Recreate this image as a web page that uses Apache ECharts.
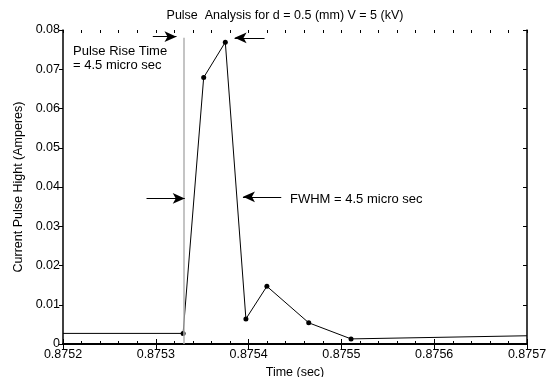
<!DOCTYPE html>
<html>
<head>
<meta charset="utf-8">
<script src="https://cdn.jsdelivr.net/npm/echarts@6/dist/echarts.min.js"></script>
<style>
html,body{margin:0;padding:0;background:#fff;}
#chart{width:553px;height:377px;}
</style>
</head>
<body>
<div id="chart"></div>
<script>
// Data
const timeSec = [0.8752, 0.8753294, 0.8753516, 0.8753749, 0.8753971, 0.8754197, 0.8754648, 0.8755104, 0.8757];
const currentA = [0.0027, 0.0027, 0.0679, 0.0769, 0.0064, 0.0147, 0.0054, 0.0013, 0.0021];
const markerShown = [false, true, true, true, true, true, true, true, false];
const xTicks = ['0.8752', '0.8753', '0.8754', '0.8755', '0.8756', '0.8757'];
const riseLineX = 0.87533;
// annotation arrows: [x1, y1, x2, y2] in data units (from tail to head)
const arrows = [
  [0.8752968, 0.0783, 0.8753223, 0.0783],
  [0.8754172, 0.0780, 0.8753849, 0.0780],
  [0.8752900, 0.0371, 0.8753312, 0.0371],
  [0.8754352, 0.0375, 0.8753939, 0.0375]
];

const FONT = 'Liberation Sans, Arial, sans-serif';
const FS = 12.5;
const chart = echarts.init(document.getElementById('chart'));

const seriesData = timeSec.map((t, i) => ({
  value: [t, currentA[i]],
  symbol: markerShown[i] ? 'circle' : 'none'
}));

function minorAxis(pos) {
  return {
    type: 'value', min: 0.8752, max: 0.8757, interval: 0.00002,
    position: pos, offset: 0,
    axisLine: {show: false},
    axisTick: {show: true, inside: true, length: 3, lineStyle: {color: '#000'}},
    axisLabel: {show: false},
    splitLine: {show: false}
  };
}

const option = {
  animation: false,
  backgroundColor: '#fff',
  title: {
    text: 'Pulse  Analysis for d = 0.5 (mm) V = 5 (kV)',
    left: 280, textAlign: 'center', top: 4,
    textStyle: {fontFamily: FONT, fontSize: FS, fontWeight: 'normal', color: '#000'}
  },
  grid: {left: 63, right: 26, top: 30, bottom: 33, containLabel: false, outerBoundsMode: 'none'},
  xAxis: [{
    type: 'value', min: 0.8752, max: 0.8757, interval: 0.0001,
    position: 'bottom',
    name: 'Time (sec)', nameLocation: 'middle', nameGap: 16,
    nameTextStyle: {fontFamily: FONT, fontSize: FS, color: '#000'},
    axisLine: {show: true, lineStyle: {color: '#000', width: 2}},
    axisTick: {show: true, inside: true, length: 5, lineStyle: {color: '#000'}},
    axisLabel: {fontFamily: FONT, fontSize: FS, color: '#000', margin: 4,
      formatter: v => { const s = v.toFixed(4); return xTicks.indexOf(s) >= 0 ? s : ''; }},
    splitLine: {show: false}
  }, {
    type: 'value', min: 0.8752, max: 0.8757, interval: 0.0001,
    position: 'top',
    axisLine: {show: true, lineStyle: {color: '#000', width: 1.5}},
    axisTick: {show: true, inside: true, length: 5, lineStyle: {color: '#000'}},
    axisLabel: {show: false},
    splitLine: {show: false}
  }, minorAxis('bottom'), minorAxis('top')],
  yAxis: [{
    type: 'value', min: 0, max: 0.08, interval: 0.01,
    position: 'left',
    name: 'Current Pulse Hight (Amperes)', nameLocation: 'middle', nameGap: 38,
    nameTextStyle: {fontFamily: FONT, fontSize: FS, color: '#000'},
    axisLine: {show: true, lineStyle: {color: '#000', width: 1.5}},
    axisTick: {show: true, inside: false, length: 4, lineStyle: {color: '#000'}},
    axisLabel: {fontFamily: FONT, fontSize: FS, color: '#000', margin: 3,
      formatter: v => v === 0 ? '0' : String(+v.toFixed(2))},
    splitLine: {show: false}
  }, {
    type: 'value', min: 0, max: 0.08, interval: 0.01,
    position: 'right',
    axisLine: {show: true, lineStyle: {color: '#000', width: 1.5}},
    axisTick: {show: true, inside: true, length: 4, lineStyle: {color: '#000'}},
    axisLabel: {show: false},
    splitLine: {show: false}
  }],
  series: [{
    type: 'line',
    data: seriesData,
    symbolSize: 5,
    showAllSymbol: true,
    itemStyle: {color: '#000'},
    lineStyle: {color: '#000', width: 1},
    markLine: {
      silent: true,
      symbol: ['none', 'none'],
      label: {show: false},
      lineStyle: {color: '#b0b0b0', width: 1.5, type: 'solid'},
      data: [[{coord: [riseLineX, 0]}, {coord: [riseLineX, 0.078]}]]
    }
  }, {
    type: 'line',
    data: [],
    markLine: {
      silent: true,
      symbol: ['none', 'arrow'],
      symbolSize: [8, 12],
      label: {show: false},
      lineStyle: {color: '#000', width: 1, type: 'solid'},
      data: arrows.map(a => [{coord: [a[0], a[1]]}, {coord: [a[2], a[3]]}])
    }
  }],
  graphic: [
    {type: 'text', left: 73, top: 45, style: {text: 'Pulse Rise Time', font: '13px ' + FONT, fill: '#000'}},
    {type: 'text', left: 73, top: 58.5, style: {text: '= 4.5 micro sec', font: '13px ' + FONT, fill: '#000'}},
    {type: 'text', left: 290, top: 192.5, style: {text: 'FWHM = 4.5 micro sec', font: '13px ' + FONT, fill: '#000'}}
  ]
};
chart.setOption(option);
</script>
</body>
</html>
